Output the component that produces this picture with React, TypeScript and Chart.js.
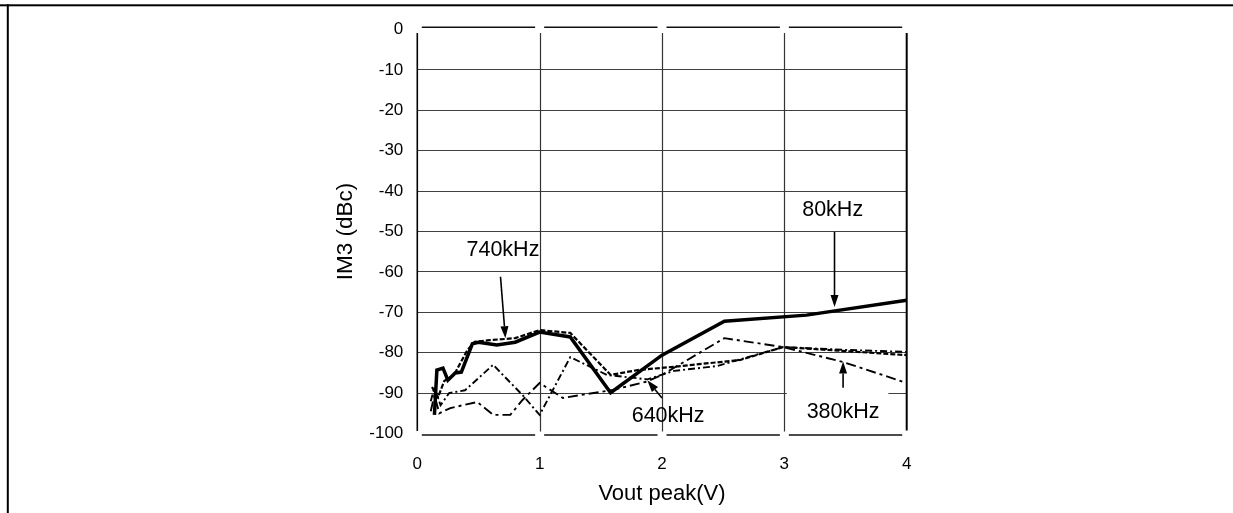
import React, { useEffect, useRef } from "react";
import { Chart, registerables } from "chart.js";

Chart.register(...registerables);

// ---- axis ticks ----
const xTickValues = [0, 1, 2, 3, 4];
const yTickValues = [0, -10, -20, -30, -40, -50, -60, -70, -80, -90, -100];

// ---- series: 80 kHz (thick solid) ----
const x80k = [0.14, 0.16, 0.21, 0.25, 0.31, 0.36, 0.45, 0.5, 0.65, 0.8, 1.0, 1.25, 1.58, 2.0, 2.51, 3.18, 4.0];
const y80k = [-95.4, -84.3, -83.8, -86.8, -85.0, -84.8, -77.8, -77.4, -78.1, -77.4, -74.9, -76.1, -89.9, -80.6, -72.2, -70.7, -67.0];

// ---- series: 740 kHz (short dash) ----
const x740k = [0.12, 0.17, 0.22, 0.3, 0.41, 0.47, 0.59, 0.8, 1.0, 1.25, 1.58, 1.8, 2.09, 2.64, 2.99, 3.5, 4.0];
const y740k = [-88.5, -91.0, -87.0, -85.5, -79.3, -77.3, -76.9, -76.4, -74.4, -75.1, -85.5, -84.3, -83.5, -81.8, -78.6, -79.6, -80.6];

// ---- series: 640 kHz (dash-dot) ----
const x640k = [0.11, 0.14, 0.19, 0.26, 0.39, 0.62, 0.86, 1.0, 1.25, 1.55, 1.88, 2.1, 2.45, 2.99, 3.5, 4.0];
const y640k = [-92.0, -88.5, -93.0, -90.0, -89.3, -83.0, -90.5, -95.4, -81.1, -85.5, -86.6, -84.5, -83.3, -78.6, -79.3, -79.8];

// ---- series: 380 kHz (long dash-dot) ----
const x380k = [0.11, 0.14, 0.18, 0.27, 0.49, 0.62, 0.76, 0.86, 1.0, 1.19, 1.6, 1.87, 2.0, 2.51, 2.99, 3.48, 4.0];
const y380k = [-94.5, -90.5, -95.0, -93.7, -92.2, -95.4, -95.4, -91.7, -87.5, -91.2, -89.2, -87.2, -85.5, -76.4, -78.6, -82.3, -87.5];

// ---- annotation labels (data coordinates) ----
const labelTexts = ["80kHz", "740kHz", "640kHz", "380kHz"];
const labelX = [3.395, 0.7, 2.05, 3.48];
const labelY = [-44.6, -54.6, -95.6, -94.6];
const arrowFromX = [3.41, 0.68, 2.0, 3.48];
const arrowFromY = [-50.1, -61.2, -91.2, -88.7];
const arrowToX = [3.41, 0.72, 1.88, 3.48];
const arrowToY = [-68.7, -76.4, -86.8, -82.2];

const FONT = "'Liberation Sans', Arial, Helvetica, sans-serif";

const toPts = (xs: number[], ys: number[]) => xs.map((x, i) => ({ x, y: ys[i] }));

const decorPlugin = {
  id: "decor",
  beforeDraw(chart: any) {
    const ctx = chart.ctx;
    ctx.save();
    ctx.fillStyle = "#ffffff";
    ctx.fillRect(0, 0, chart.width, chart.height);
    ctx.fillStyle = "#000";
    ctx.fillRect(0, 4.3, chart.width, 2);
    ctx.fillRect(6.8, 4.3, 2, chart.height);
    ctx.restore();
  },
  beforeDatasetsDraw(chart: any) {
    const ctx = chart.ctx;
    const xs = chart.scales.x;
    const ys = chart.scales.y;
    const top = ys.getPixelForValue(0);
    const bot = ys.getPixelForValue(-100);
    ctx.save();
    // label box for 380kHz (gap in -90 gridline)
    ctx.fillStyle = "#fff";
    const bx1 = xs.getPixelForValue(3.02);
    const bx2 = xs.getPixelForValue(3.85);
    const by1 = ys.getPixelForValue(-88.8);
    const by2 = ys.getPixelForValue(-98.8);
    ctx.fillRect(bx1, by1, bx2 - bx1, by2 - by1);
    // vertical gridlines
    ctx.strokeStyle = "#333";
    ctx.lineWidth = 1.2;
    [1, 2, 3].forEach((v) => {
      const px = Math.round(xs.getPixelForValue(v)) + 0.5;
      ctx.beginPath();
      ctx.moveTo(px, top + 3.5);
      ctx.lineTo(px, bot - 2);
      ctx.stroke();
    });
    // left axis
    ctx.strokeStyle = "#000";
    ctx.lineWidth = 1.6;
    let px = xs.getPixelForValue(0);
    ctx.beginPath();
    ctx.moveTo(px, top + 3.5);
    ctx.lineTo(px, bot - 2.5);
    ctx.stroke();
    // right edge
    ctx.lineWidth = 2;
    px = xs.getPixelForValue(4);
    ctx.beginPath();
    ctx.moveTo(px, top + 3.5);
    ctx.lineTo(px, bot - 3);
    ctx.stroke();
    // segmented top / bottom lines
    ctx.strokeStyle = "#111";
    ctx.lineWidth = 1.5;
    for (let i = 0; i < 4; i++) {
      const a = xs.getPixelForValue(i) + 4.5;
      const b = xs.getPixelForValue(i + 1) - 4.5;
      ctx.beginPath();
      ctx.moveTo(a, top - 2.2);
      ctx.lineTo(b, top - 2.2);
      ctx.moveTo(a, bot + 1.5);
      ctx.lineTo(b, bot + 1.5);
      ctx.stroke();
    }
    ctx.restore();
  },
  afterDatasetsDraw(chart: any) {
    const ctx = chart.ctx;
    const xs = chart.scales.x;
    const ys = chart.scales.y;
    ctx.save();
    ctx.fillStyle = "#000";
    ctx.strokeStyle = "#000";
    ctx.font = `21.5px ${FONT}`;
    ctx.textAlign = "center";
    ctx.textBaseline = "middle";
    labelTexts.forEach((t, i) => {
      ctx.fillText(t, xs.getPixelForValue(labelX[i]), ys.getPixelForValue(labelY[i]));
      const x1 = xs.getPixelForValue(arrowFromX[i]);
      const y1 = ys.getPixelForValue(arrowFromY[i]);
      const x2 = xs.getPixelForValue(arrowToX[i]);
      const y2 = ys.getPixelForValue(arrowToY[i]);
      const ang = Math.atan2(y2 - y1, x2 - x1);
      const hl = 12;
      const hw = 4;
      const bxp = x2 - hl * Math.cos(ang);
      const byp = y2 - hl * Math.sin(ang);
      ctx.lineWidth = 1.6;
      ctx.beginPath();
      ctx.moveTo(x1, y1);
      ctx.lineTo(bxp, byp);
      ctx.stroke();
      ctx.beginPath();
      ctx.moveTo(x2, y2);
      ctx.lineTo(bxp + hw * Math.sin(ang), byp - hw * Math.cos(ang));
      ctx.lineTo(bxp - hw * Math.sin(ang), byp + hw * Math.cos(ang));
      ctx.closePath();
      ctx.fill();
    });
    ctx.restore();
  },
};

export default function App() {
  const ref = useRef<HTMLCanvasElement | null>(null);

  useEffect(() => {
    if (!ref.current) return;
    const chart = new Chart(ref.current, {
      type: "line",
      data: {
        datasets: [
          {
            label: "80kHz",
            data: toPts(x80k, y80k),
            borderColor: "#000",
            borderWidth: 3.5,
            pointRadius: 0,
            tension: 0,
          },
          {
            label: "740kHz",
            data: toPts(x740k, y740k),
            borderColor: "#000",
            borderWidth: 2.2,
            borderDash: [5, 2],
            pointRadius: 0,
            tension: 0,
          },
          {
            label: "640kHz",
            data: toPts(x640k, y640k),
            borderColor: "#000",
            borderWidth: 1.9,
            borderDash: [7, 3, 2, 3],
            pointRadius: 0,
            tension: 0,
          },
          {
            label: "380kHz",
            data: toPts(x380k, y380k),
            borderColor: "#000",
            borderWidth: 1.9,
            borderDash: [10, 4, 3, 4],
            pointRadius: 0,
            tension: 0,
          },
        ],
      },
      options: {
        animation: false,
        responsive: false,
        devicePixelRatio: 1,
        layout: { padding: { top: 29.5, right: 326.3, bottom: 0, left: 0 } },
        plugins: { legend: { display: false }, tooltip: { enabled: false } },
        scales: {
          x: {
            type: "linear",
            min: 0,
            max: 4,
            afterBuildTicks: (s: any) => {
              s.ticks = xTickValues.map((v) => ({ value: v }));
            },
            afterFit: (s: any) => {
              s.height = 79.5;
            },
            grid: { display: false, drawTicks: false },
            border: { display: false },
            ticks: { color: "#000", font: { family: FONT, size: 17 }, padding: 21 },
            title: {
              display: true,
              text: "Vout peak(V)",
              color: "#000",
              font: { family: FONT, size: 22 },
              padding: { top: 0, bottom: 6 },
            },
          },
          y: {
            type: "linear",
            min: -100,
            max: 0,
            afterBuildTicks: (s: any) => {
              s.ticks = yTickValues.map((v) => ({ value: v }));
            },
            afterFit: (s: any) => {
              s.width = 417.3;
            },
            grid: {
              drawTicks: false,
              color: (c: any) =>
                c.tick && (c.tick.value === 0 || c.tick.value === -100) ? "rgba(0,0,0,0)" : "#404040",
              lineWidth: 1,
            },
            border: { display: false },
            ticks: { color: "#000", font: { family: FONT, size: 17 }, padding: 14 },
            title: {
              display: true,
              text: "IM3 (dBc)",
              color: "#000",
              font: { family: FONT, size: 22.5 },
              padding: { top: 332, bottom: 0 },
            },
          },
        },
      },
      plugins: [decorPlugin],
    });
    return () => chart.destroy();
  }, []);

  return (
    <div style={{ position: "absolute", left: 0, top: 0, width: 1233, height: 513 }}>
      <canvas ref={ref} width={1233} height={513} style={{ width: 1233, height: 513, display: "block" }} />
    </div>
  );
}
